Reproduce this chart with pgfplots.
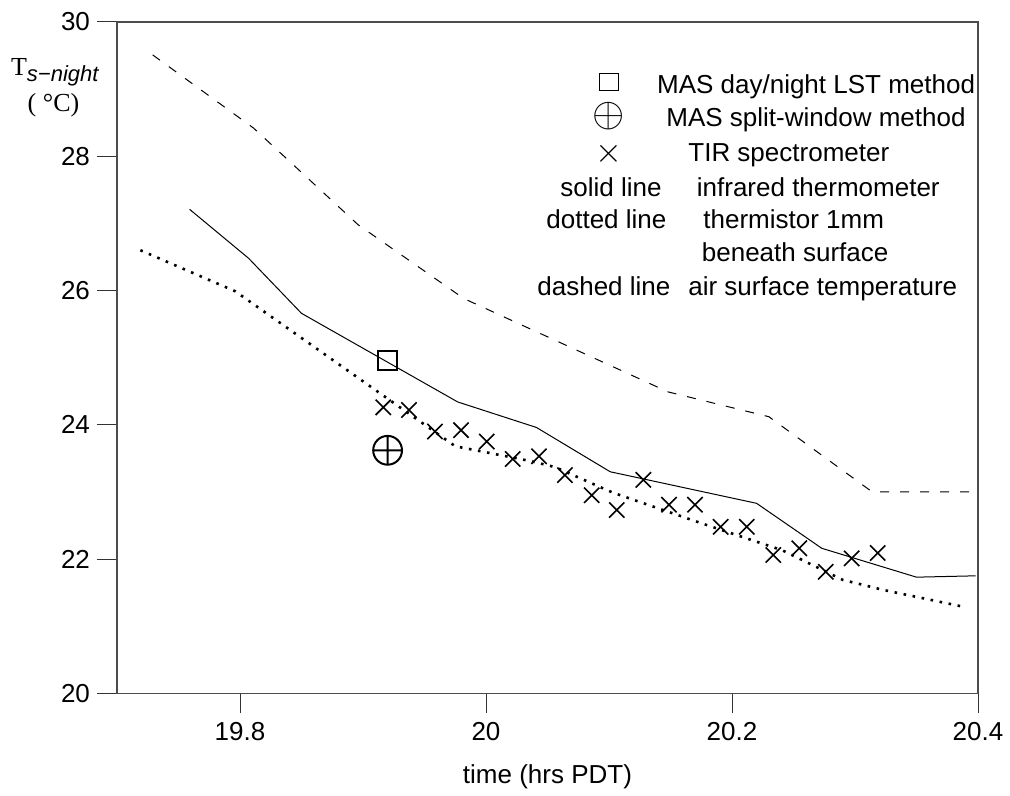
\documentclass[border=0pt]{standalone}
\usepackage{pgfplots}
\pgfplotsset{compat=1.18}
\usepackage{fontspec}
\setmainfont{Liberation Sans}
\newfontfamily\serif{Liberation Serif}

\pgfplotstableread{
x y
19.729 29.51
19.811 28.42
19.896 26.98
19.982 25.88
20.148 24.49
20.230 24.12
20.314 23.00
20.398 23.00
}\dashedtab

\pgfplotstableread{
x y
19.759 27.21
19.807 26.48
19.850 25.66
19.977 24.34
20.041 23.96
20.101 23.30
20.220 22.83
20.273 22.16
20.350 21.73
20.398 21.75
}\solidtab

\pgfplotstableread{
x y
19.719 26.60
19.796 25.99
19.975 23.68
20.036 23.46
20.056 23.37
20.103 22.99
20.174 22.54
20.241 22.13
20.290 21.69
20.323 21.54
20.388 21.29
}\dottedtab

\pgfplotstableread{
x y
19.9165 24.26
19.9374 24.22
19.9585 23.90
19.9797 23.92
20.0006 23.75
20.0217 23.49
20.0431 23.53
20.0642 23.25
20.0859 22.95
20.1063 22.73
20.1279 23.18
20.1488 22.81
20.1699 22.81
20.1908 22.48
20.2120 22.48
20.2336 22.06
20.2547 22.16
20.2762 21.81
20.2973 22.01
20.3184 22.09
}\tirtab

\begin{document}
\begin{tikzpicture}
\begin{axis}[
  scale only axis, width=430.5pt, height=335.65pt,
  xmin=19.7, xmax=20.4, ymin=20, ymax=30,
  xtick={19.8,20,20.2,20.4}, ytick={20,22,24,26,28,30},
  tick pos=left, tick align=outside, major tick length=10pt,
  axis line style={black!70, line width=0.6pt},
  tick style={black!80, line width=0.5pt},
  /pgf/number format/assume math mode=true,
  ticklabel style={font=\fontsize{13}{15}\selectfont},
  xticklabel style={yshift=-1pt},
  xlabel={time (hrs PDT)},
  xlabel style={font=\fontsize{13}{15}\selectfont, at={(rel axis cs:0.5,0)}, anchor=base, yshift=-45pt},
  clip=false,
]
\addplot[black, line width=0.5pt, dash pattern=on 4.5pt off 5.5pt] table[x=x,y=y] {\dashedtab};
\addplot[black, line width=0.5pt] table[x=x,y=y] {\solidtab};
\addplot[black, line width=1.3pt, dash pattern=on 1.3pt off 3.3pt] table[x=x,y=y] {\dottedtab};
\addplot[black, only marks, mark=x, mark size=5.4pt, line width=0.8pt] table[x=x,y=y] {\tirtab};
\addplot[black, only marks, mark=square, mark size=4.75pt, line width=0.7pt] coordinates {(19.920,24.96)};
\addplot[black, only marks, mark=oplus, mark size=7.2pt, line width=1.0pt] coordinates {(19.920,23.62)};
\end{axis}
\begin{scope}[shift={([xshift=-58.5pt,yshift=11pt]current axis.north west)}, x=0.5pt, y=-0.5pt,
  every node/.style={inner sep=0pt, font=\fontsize{13}{15}\selectfont}]
\path (0,0) rectangle (1010,792);
\node[anchor=base west] at (10.7,76) {{\serif T}\raisebox{-2.8pt}{\fontsize{11}{13}\selectfont\itshape s−night}};
\node[anchor=base] at (53.5,111.7) {\serif ( °C)};
\node[anchor=center] at (609,82) {\fontsize{13}{15}\selectfont\rule{0pt}{0pt}\tikz\path[draw=black, line width=0.6pt] (0,0) rectangle (9.3pt,8.8pt);};
\node[anchor=center] at (609,116) {\fontsize{21}{23}\selectfont$\oplus$};
\node[anchor=center] at (609,154) {\fontsize{18}{20}\selectfont$\times$};
\node[anchor=base west] at (656.7,93.5) {MAS day/night LST method};
\node[anchor=base west] at (666,127) {MAS split-window method};
\node[anchor=base west] at (688,161.5) {TIR spectrometer};
\node[anchor=base west] at (560,196.5) {solid line};
\node[anchor=base west] at (696.5,196.5) {infrared thermometer};
\node[anchor=base west] at (546,229) {dotted line};
\node[anchor=base west] at (703,229) {thermistor 1mm};
\node[anchor=base west] at (701.5,261.7) {beneath surface};
\node[anchor=base west] at (537,295) {dashed line};
\node[anchor=base west] at (688,295) {air surface temperature};
\end{scope}
\end{tikzpicture}
\end{document}
